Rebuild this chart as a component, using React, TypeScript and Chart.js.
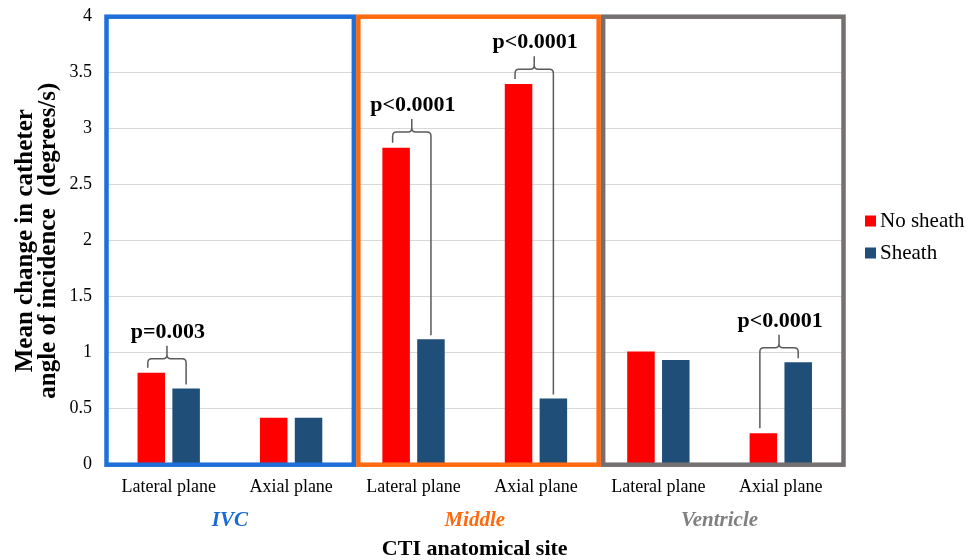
import React, { useEffect, useRef } from "react";
import { Chart, registerables } from "chart.js";

Chart.register(...registerables);

// ---- data ----
const categories = ["Lateral plane", "Axial plane", "Lateral plane", "Axial plane", "Lateral plane", "Axial plane"];
const noSheath = [0.82, 0.42, 2.83, 3.4, 1.01, 0.28];
const sheath = [0.68, 0.42, 1.12, 0.59, 0.935, 0.915];
const yTickValues = [0, 0.5, 1, 1.5, 2, 2.5, 3, 3.5, 4];
const yTickLabels = ["0", "0.5", "1", "1.5", "2", "2.5", "3", "3.5", "4"];
const sites = ["IVC", "Middle", "Ventricle"];
const siteFrameColors = ["#1f6fd9", "#ff6a10", "#747070"];
const siteTextColors = ["#1a6ad6", "#ff6a10", "#808080"];
const bracketCategories = [0, 2, 3, 5];
const bracketLevels = [0.945, 2.97, 3.53, 1.045];
const bracketLabels = ["p=0.003", "p<0.0001", "p<0.0001", "p<0.0001"];
const seriesNames = ["No sheath", "Sheath"];
const seriesColors = ["#ff0000", "#1f4e79"];

const SERIF = '"Liberation Serif", "Times New Roman", serif';

const annotationsPlugin = {
  id: "annotations",
  afterDatasetsDraw(chart: any) {
    const { ctx, chartArea, scales } = chart;
    const y = scales.y;
    const w = (chartArea.right - chartArea.left) / categories.length;
    const b = [chartArea.left, chartArea.left + 2 * w, chartArea.left + 4 * w, chartArea.right];
    // frames
    ctx.save();
    ctx.lineWidth = 4.5;
    for (let i = 0; i < 3; i++) {
      const x0 = i === 0 ? b[0] - 1 : b[i] + 6;
      const x1 = b[i + 1] + 1.5;
      ctx.strokeStyle = siteFrameColors[i];
      ctx.strokeRect(x0, chartArea.top, x1 - x0, chartArea.bottom - chartArea.top);
    }
    ctx.restore();

    // brackets
    const m0 = chart.getDatasetMeta(0);
    const m1 = chart.getDatasetMeta(1);
    ctx.save();
    ctx.strokeStyle = "#5a5a5a";
    ctx.lineWidth = 1.5;
    bracketCategories.forEach((c, i) => {
      const r0 = m0.data[c];
      const r1 = m1.data[c];
      const xL = r0.x - 3.5;
      const xR = r1.x;
      const yL = r0.y - 5;
      const yR = r1.y - 4;
      const yH = y.getPixelForValue(bracketLevels[i]);
      const cx = (xL + xR) / 2;
      const r = 4;
      const peak = yH - 13;
      ctx.beginPath();
      ctx.moveTo(xL, yL);
      ctx.lineTo(xL, yH + r);
      ctx.quadraticCurveTo(xL, yH, xL + r, yH);
      ctx.lineTo(cx - r, yH);
      ctx.quadraticCurveTo(cx, yH, cx, yH - r);
      ctx.lineTo(cx, peak);
      ctx.moveTo(cx, yH - r);
      ctx.quadraticCurveTo(cx, yH, cx + r, yH);
      ctx.lineTo(xR - r, yH);
      ctx.quadraticCurveTo(xR, yH, xR, yH + r);
      ctx.lineTo(xR, yR);
      ctx.stroke();
      ctx.fillStyle = "#000";
      ctx.font = `bold 22px ${SERIF}`;
      ctx.textAlign = "center";
      ctx.textBaseline = "alphabetic";
      ctx.fillText(bracketLabels[i], cx + 1, peak - 8);
    });
    ctx.restore();
  },
  afterDraw(chart: any) {
    const { ctx, scales } = chart;
    const x = scales.x;
    ctx.save();
    // group labels
    ctx.font = `italic bold 21px ${SERIF}`;
    ctx.textAlign = "center";
    ctx.textBaseline = "middle";
    sites.forEach((s, i) => {
      const cx = (x.getPixelForValue(2 * i) + x.getPixelForValue(2 * i + 1)) / 2;
      ctx.fillStyle = siteTextColors[i];
      ctx.fillText(s, cx, 521);
    });
    // legend
    ctx.font = `21px ${SERIF}`;
    ctx.textAlign = "left";
    ctx.textBaseline = "middle";
    chart.data.datasets.forEach((ds: any, i: number) => {
      const yy = 221 + i * 32;
      ctx.fillStyle = ds.backgroundColor;
      ctx.fillRect(865, yy - 5.5, 11, 11);
      ctx.fillStyle = "#000";
      ctx.fillText(ds.label, 880, yy);
    });
    ctx.restore();
  },
};

export default function App() {
  const ref = useRef<HTMLCanvasElement | null>(null);
  useEffect(() => {
    document.body.style.margin = "0";
    if (!ref.current) return;
    const chart = new Chart(ref.current, {
      type: "bar",
      data: {
        labels: categories,
        datasets: [
          { label: seriesNames[0], data: noSheath, backgroundColor: seriesColors[0], categoryPercentage: 0.569, barPercentage: 0.79 },
          { label: seriesNames[1], data: sheath, backgroundColor: seriesColors[1], categoryPercentage: 0.569, barPercentage: 0.79 },
        ],
      },
      options: {
        responsive: false,
        animation: false,
        layout: { padding: { top: 16.7, right: 126, bottom: 0, left: 0 } },
        plugins: {
          legend: { display: false },
          tooltip: { enabled: false },
        },
        scales: {
          x: {
            grid: { display: false, drawTicks: false },
            border: { display: false },
            ticks: { color: "#000", font: { family: SERIF, size: 18 }, padding: 11.5, maxRotation: 0, autoSkip: false },
            title: {
              display: true,
              text: "CTI anatomical site",
              color: "#000",
              font: { family: SERIF, size: 22, weight: "bold", lineHeight: 1 },
              padding: { top: 1, bottom: 0 },
            },
            afterFit: (s: any) => {
              s.height = 95.3;
              s.paddingLeft = 0;
              s.paddingRight = 0;
            },
          },
          y: {
            min: 0,
            max: 4,
            grid: { color: "#d9d9d9", lineWidth: 1, drawTicks: false },
            border: { display: false },
            ticks: {
              color: "#000",
              font: { family: SERIF, size: 18 },
              padding: 15.5,
              callback: (v: any) => {
                const i = yTickValues.indexOf(Number(v));
                return i >= 0 ? yTickLabels[i] : "";
              },
            },
            afterBuildTicks: (s: any) => {
              s.ticks = yTickValues.map((v) => ({ value: v }));
            },
            title: {
              display: true,
              text: ["Mean change in catheter", "angle of incidence  (degrees/s)"],
              color: "#000",
              font: { family: SERIF, size: 25, weight: "bold", lineHeight: 0.92 },
              padding: { top: 14.5, bottom: 0 },
            },
            afterFit: (s: any) => {
              s.width = 107.5;
              s.paddingTop = 0;
              s.paddingBottom = 0;
            },
          },
        },
      },
      plugins: [annotationsPlugin],
    });
    return () => chart.destroy();
  }, []);
  return (
    <div style={{ width: 968, height: 560 }}>
      <canvas ref={ref} width={968} height={560} style={{ display: "block" }} />
    </div>
  );
}
